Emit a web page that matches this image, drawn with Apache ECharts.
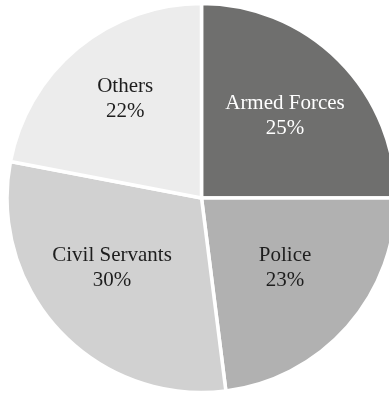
<!DOCTYPE html>
<html>
<head>
<meta charset="utf-8">
<script src="https://cdn.jsdelivr.net/npm/echarts@6/dist/echarts.min.js"></script>
<style>
html,body{margin:0;padding:0;background:#fff;}
#chart{width:389px;height:395px;}
</style>
</head>
<body>
<div id="chart"></div>
<script>
// Data
var categories = ['Armed Forces', 'Police', 'Civil Servants', 'Others'];
var values = [25, 23, 30, 22];

// Styles
var sliceColors = ['#6f6f6e', '#b1b1b1', '#d1d1d1', '#ececec'];
var labelColors = ['#ffffff', '#1e1e1e', '#1e1e1e', '#1e1e1e'];
var labelNudge = [[12.6, -10.8], [8.4, 3.4], [-16.4, 1.2], [-12.4, -21.4]];

var chart = echarts.init(document.getElementById('chart'), null, {renderer: 'canvas'});
var data = categories.map(function (c, i) {
  return {
    name: c,
    value: values[i],
    itemStyle: {color: sliceColors[i]},
    label: {color: labelColors[i]}
  };
});
chart.setOption({
  animation: false,
  backgroundColor: '#ffffff',
  series: [{
    type: 'pie',
    center: [201.5, 198],
    radius: [0, 194.5],
    startAngle: 90,
    clockwise: true,
    avoidLabelOverlap: false,
    silent: true,
    itemStyle: {borderColor: '#ffffff', borderWidth: 3.5},
    label: {
      show: true,
      position: 'inside',
      formatter: function (p) { return p.name + '\n' + p.value + '%'; },
      fontFamily: 'Liberation Serif',
      fontSize: 21,
      lineHeight: 25,
      align: 'center'
    },
    labelLine: {show: false},
    labelLayout: function (p) {
      var n = labelNudge[p.dataIndex];
      return {dx: n[0], dy: n[1]};
    },
    data: data
  }]
});
</script>
</body>
</html>
